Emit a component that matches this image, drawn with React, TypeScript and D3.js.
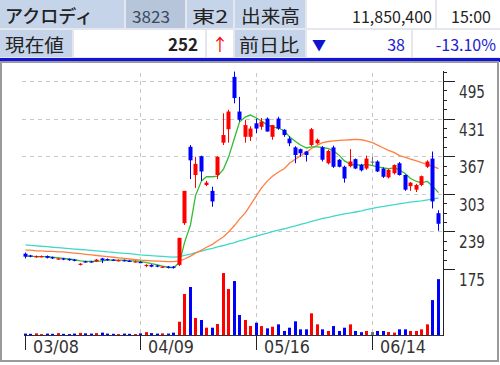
import React from "react";
import * as d3 from "d3";

// ---- data ----
const stockName = "アクロディ";
const stockCode = "3823";
const market = "東2";
const volumeLabel = "出来高";
const volumeText = "11,850,400";
const timeText = "15:00";
const priceLabel = "現在値";
const priceText = "252";
const changeLabel = "前日比";
const changeText = "38";
const changePctText = "-13.10%";

const dateLabels = ["03/08", "04/09", "05/16", "06/14"];
const dateIndex = [0, 21, 42, 63];
const priceTicks = [495, 431, 367, 303, 239, 175];

const opens = [201,198,195,196,197,195,192,193,192,191,183,188,188,188,193,192,191,189,190,189,187,187,180,182,181,178,179,179,
  182,253,383,335,367,318,308,335,390,413,502,443,400,400,423,417,431,400,431,412,397,382,379,375,386,389,382,355,382,361,349,350,
  362,352,346,358,358,346,331,338,355,335,316,310,318,349,363,270];
const highs = [203,199,198,198,198,196,194,194,193,192,185,189,189,192,194,193,192,191,191,190,189,188,183,183,182,180,180,180,
  228,308,386,366,368,325,315,367,440,446,511,468,429,418,431,432,433,420,434,413,401,384,380,376,415,397,384,378,385,362,351,379,
  363,354,368,366,360,348,345,353,357,336,323,320,334,360,375,275];
const lows = [193,195,194,195,193,192,191,190,189,188,181,186,186,187,185,189,189,188,188,187,186,185,178,178,178,177,176,176,
  180,250,328,313,325,316,281,328,386,390,457,426,390,393,406,412,409,395,412,400,384,355,366,358,384,387,358,353,347,348,322,348,
  345,341,344,352,340,330,329,336,334,308,308,306,316,347,278,240];
const closes = [196,196,197,197,194,193,193,191,190,189,184,187,187,191,190,190,190,190,189,188,188,186,182,179,179,179,177,178,
  228,308,360,354,341,322,290,366,403,443,466,429,420,414,414,426,409,420,414,403,389,369,372,369,413,395,361,376,349,349,329,358,
  346,343,363,358,341,332,344,352,335,310,322,318,333,358,290,252];
const volumes = [300,250,350,200,300,250,400,250,200,300,450,350,300,400,500,300,250,200,300,250,200,350,600,400,300,350,300,500,
  2820,8690,10180,3600,3180,1550,1550,2330,13140,9750,11450,4240,3180,1900,2600,1900,1420,1760,2260,850,1550,2900,1200,1200,4600,2260,1200,850,
  1900,850,1550,2260,850,600,850,630,850,850,630,500,1200,1200,850,850,1200,2260,7400,11850];
const ma5 = [197,197,196,196,196,195,194,193,192,191,189,188,188,188,189,190,190,190,190,189,189,188,186,184,182,180,178,177,
  186,220,250,300,325,332,332,333,345,365,398,425,434,437,432,427,420,417,415,410,400,392,386,381,383,383,382,380,376,368,359,353,
  352,352,353,351,349,347,346,347,344,337,329,324,322,324,316,305];
const ma25 = [207,207,206,206,205,205,204,204,203,202,201,200,199,198,197,196,195,194,193,192,191,190,189.5,189,188.5,188,187.5,187.5,
  189,192,197,202,207,212,217,223,230,238,249,260,271,284,300,313,325,333,340,346,355,362,368,374,380,386,390,392,393,394,394.5,395,
  395.5,395,393,390,386,381,377,373,368,365,362,359,356,353,350,346];
const ma75 = [216,215.3,214.5,213.7,213,212,211.3,210.5,209.7,209,208.2,207.4,206.6,205.8,205,204,203.3,202.5,201.7,201,200,199,198.3,197.6,197,196.4,195.8,195.3,
  196,198,200.5,203,205.5,208,210,212.5,215,217.5,220,223,225.5,228.5,231,233.5,236,238.5,241,243.5,246,248.5,251,253.5,256,258.5,261,263,
  265,267,269,270.5,272,274,276,278,280,281.5,283,284.5,286,287.5,289,290,291,292.5,294,296];

// ---- colours ----
const UP = "#ff0000";
const DOWN = "#0000ff";
const HDR = "#c6d4e9";
const HDR2 = "#b6c5da";

export default function App() {
  const N = closes.length;
  const x = d3.scaleLinear().domain([0, N - 1]).range([24.5, 437.8]);
  const cx = (i: number) => Math.round(x(i));
  const yP = d3.scaleLinear().domain([175, 495]).range([269, 81]);
  const yV = d3.scaleLinear().domain([0, 14000]).range([335, 269]);
  const mkLine = (arr: number[]) =>
    d3.line<number>().x((_, i) => cx(i) + 0.5).y((d) => yP(d))(arr) || "";

  const minorTicks = d3.range(191, 512, 16).filter((v) => !priceTicks.includes(v));
  const axisX = 443.5;
  const jp = "'Noto Sans CJK JP', 'DejaVu Sans', sans-serif";
  const num = "'DejaVu Sans', sans-serif";

  const color = (i: number) =>
    closes[i] > opens[i] ? UP : closes[i] < opens[i] ? DOWN : "#777";

  return (
    <div style={{ width: 500, height: 365 }}>
      <style>{`body{margin:0;background:#fff}`}</style>
      <svg width={500} height={365} style={{ display: "block" }}>
        {/* header */}
        <rect x={0} y={0} width={500} height={59} fill="#e4e8ee" />
        <rect x={0} y={0} width={124} height={28} fill={HDR} />
        <rect x={126} y={0} width={59} height={28} fill={HDR2} />
        <rect x={187} y={0} width={46} height={28} fill={HDR} />
        <rect x={235} y={0} width={70} height={28} fill={HDR} />
        <rect x={307} y={0} width={128} height={28} fill="#fff" />
        <rect x={437} y={0} width={63} height={28} fill="#fff" />
        <rect x={0} y={30} width={72} height={27} fill={HDR} />
        <rect x={74} y={30} width={131} height={27} fill="#fff" />
        <rect x={207} y={30} width={26} height={27} fill="#fff" />
        <rect x={235} y={30} width={70} height={27} fill={HDR} />
        <rect x={307} y={30} width={104} height={27} fill="#fff" />
        <rect x={413} y={30} width={87} height={27} fill="#fff" />
        <rect x={0} y={58} width={500} height={4} fill="#1414d8" />

        <g fontFamily={jp} fill="#222">
          <text x={5} y={23} fontSize={18} fontWeight={500} textLength={88} lengthAdjust="spacingAndGlyphs">{stockName}</text>
          <text x={132} y={23} fontSize={16} fill="#3a4a5e" textLength={38} lengthAdjust="spacingAndGlyphs">{stockCode}</text>
          <text x={192} y={23} fontSize={17} textLength={36} lengthAdjust="spacingAndGlyphs">{market}</text>
          <text x={241} y={23} fontSize={18} textLength={59} lengthAdjust="spacingAndGlyphs">{volumeLabel}</text>
          <text x={432} y={23} fontSize={16} textAnchor="end">{volumeText}</text>
          <text x={491} y={23} fontSize={16} textAnchor="end">{timeText}</text>
          <text x={5} y={52} fontSize={18} textLength={59} lengthAdjust="spacingAndGlyphs">{priceLabel}</text>
          <text x={198} y={51} fontSize={17} fontWeight={700} textAnchor="end">{priceText}</text>
          <text x={220} y={51} fontSize={17} fill={UP} textAnchor="middle">↑</text>
          <text x={239} y={52} fontSize={18} textLength={60} lengthAdjust="spacingAndGlyphs">{changeLabel}</text>
          <text x={319} y={50} fontSize={14} fill="#1010d0" textAnchor="middle">▼</text>
          <text x={405} y={51} fontSize={16} fill="#2020d0" textAnchor="end">{changeText}</text>
          <text x={496} y={51} fontSize={16} fill="#2020d0" textAnchor="end">{changePctText}</text>
        </g>

        {/* frame */}
        <rect x={1} y={62} width={497} height={299} fill="#fff" stroke="#9a9a9a" strokeWidth={2} />

        {/* grid */}
        <g stroke="#c8c8c8" strokeWidth={1} strokeDasharray="4,4">
          {priceTicks.slice(0, 5).map((v) => (
            <line key={v} x1={22} x2={axisX} y1={Math.round(yP(v)) + 0.5} y2={Math.round(yP(v)) + 0.5} />
          ))}
          {dateIndex.slice(1).map((i) => (
            <line key={i} x1={cx(i) + 0.5} x2={cx(i) + 0.5} y1={73} y2={335} />
          ))}
        </g>

        {/* volume */}
        <g>
          {volumes.map((v, i) => (
            <rect key={i} x={cx(i) - 1} y={yV(v)} width={3} height={Math.max(1, 335 - yV(v))} fill={color(i)} />
          ))}
        </g>
        <line x1={24} x2={axisX} y1={335.5} y2={335.5} stroke="#333" />

        {/* moving averages */}
        <path d={mkLine(ma75)} fill="none" stroke="#3fd8c8" strokeWidth={1.3} />
        <path d={mkLine(ma25)} fill="none" stroke="#ff7f40" strokeWidth={1.3} />
        <path d={mkLine(ma5)} fill="none" stroke="#33bb33" strokeWidth={1.3} />

        {/* candles */}
        <g>
          {closes.map((c, i) => {
            const col = color(i);
            const top = yP(Math.max(opens[i], c));
            const bot = yP(Math.min(opens[i], c));
            return (
              <g key={i}>
                <line x1={cx(i) + 0.5} x2={cx(i) + 0.5} y1={yP(highs[i])} y2={yP(lows[i])} stroke={col} strokeWidth={1} />
                <rect x={cx(i) - 1.5} y={top} width={4} height={Math.max(1.2, bot - top)} fill={col} />
              </g>
            );
          })}
        </g>

        {/* price axis */}
        <line x1={axisX} x2={axisX} y1={71} y2={336} stroke="#222" strokeWidth={1} />
        {priceTicks.map((v) => (
          <g key={v}>
            <line x1={axisX} x2={455} y1={Math.round(yP(v)) + 0.5} y2={Math.round(yP(v)) + 0.5} stroke="#222" />
            <text x={459} y={Math.round(yP(v)) + 17} fontFamily={num} fontSize={17} fill="#333" textLength={26} lengthAdjust="spacingAndGlyphs">{v}</text>
          </g>
        ))}
        {minorTicks.map((v) => (
          <line key={v} x1={axisX} x2={447} y1={Math.round(yP(v)) + 0.5} y2={Math.round(yP(v)) + 0.5} stroke="#222" />
        ))}

        {/* date axis */}
        {dateIndex.map((i, k) => (
          <g key={i}>
            <line x1={cx(i) + 0.5} x2={cx(i) + 0.5} y1={335} y2={350} stroke="#222" />
            <text x={cx(i) + 8} y={353} fontFamily={num} fontSize={17} fill="#333" textLength={46} lengthAdjust="spacingAndGlyphs">{dateLabels[k]}</text>
          </g>
        ))}
      </svg>
    </div>
  );
}
